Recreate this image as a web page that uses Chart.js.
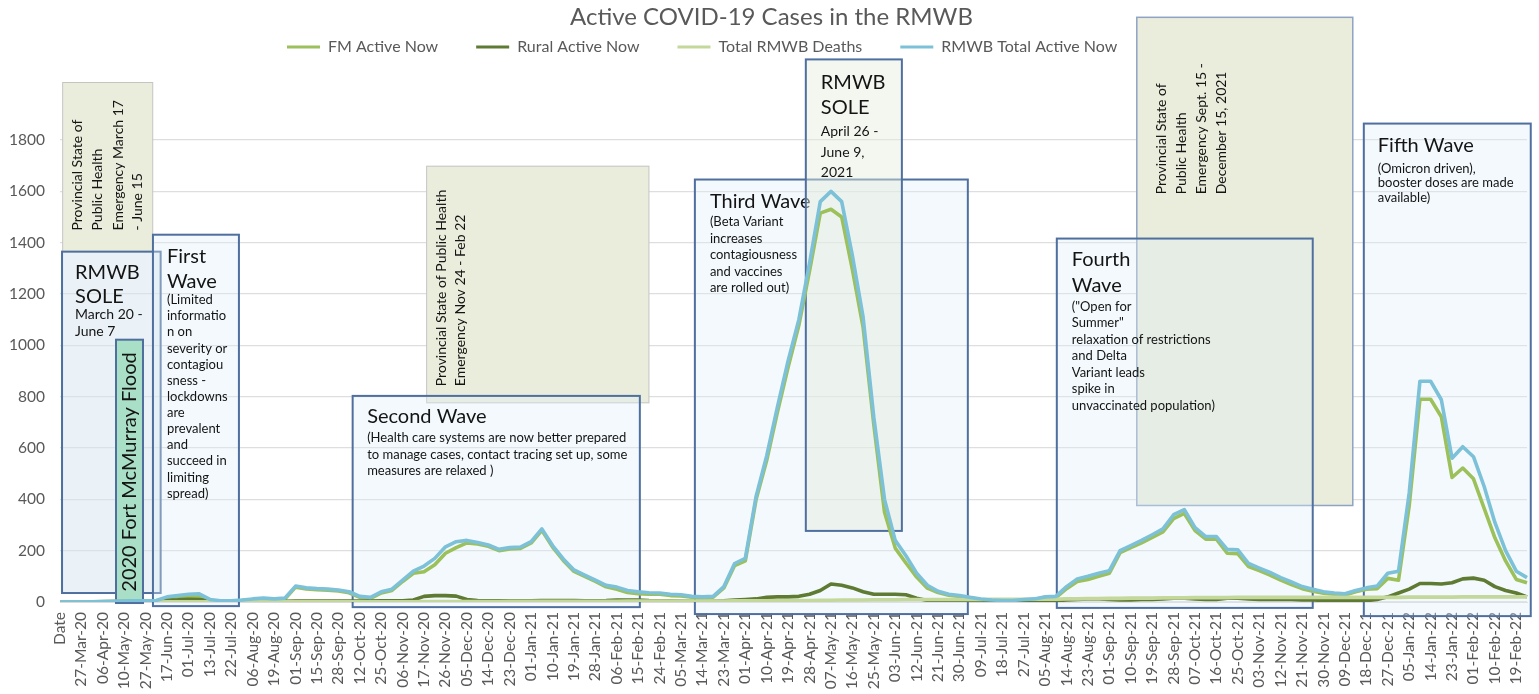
<!DOCTYPE html>
<html lang="en">
<head>
<meta charset="UTF-8" />
<title>Active COVID-19 Cases in the RMWB</title>
<script src="https://cdn.jsdelivr.net/npm/chart.js"></script>
<style>
  html, body { margin: 0; padding: 0; background: #fff; }
  #wrap { width: 1539px; height: 694px; }
</style>
</head>
<body>
<div id="wrap"><canvas id="casesChart" width="1539" height="694"></canvas></div>
<script>
  // tick labels shown on the date axis (one every second row of data)
  const tickDates = ['Date', '27-Mar-20', '06-Apr-20', '10-May-20', '27-May-20', '17-Jun-20', '01-Jul-20',
    '13-Jul-20', '22-Jul-20', '06-Aug-20', '19-Aug-20', '01-Sep-20', '15-Sep-20', '28-Sep-20', '12-Oct-20',
    '25-Oct-20', '06-Nov-20', '17-Nov-20', '26-Nov-20', '05-Dec-20', '14-Dec-20', '23-Dec-20', '01-Jan-21',
    '10-Jan-21', '19-Jan-21', '28-Jan-21', '06-Feb-21', '15-Feb-21', '24-Feb-21', '05-Mar-21', '14-Mar-21',
    '23-Mar-21', '01-Apr-21', '10-Apr-21', '19-Apr-21', '28-Apr-21', '07-May-21', '16-May-21', '25-May-21',
    '03-Jun-21', '12-Jun-21', '21-Jun-21', '30-Jun-21', '09-Jul-21', '18-Jul-21', '27-Jul-21', '05-Aug-21',
    '14-Aug-21', '23-Aug-21', '01-Sep-21', '10-Sep-21', '19-Sep-21', '28-Sep-21', '07-Oct-21', '16-Oct-21',
    '25-Oct-21', '03-Nov-21', '12-Nov-21', '21-Nov-21', '30-Nov-21', '09-Dec-21', '18-Dec-21', '27-Dec-21',
    '05-Jan-22', '14-Jan-22', '23-Jan-22', '01-Feb-22', '10-Feb-22', '19-Feb-22'];

  const fmActive = [
    0, 0, 0, 1, 2, 3, 3, 4, 4, 5,
    12, 16, 19, 22, 6, 3, 3, 6, 9, 12,
    9, 12, 58, 51, 48, 46, 43, 36, 18, 14,
    35, 45, 80, 112, 118, 145, 190, 212, 230, 226,
    217, 200, 207, 209, 230, 279, 214, 162, 119, 100,
    80, 59, 50, 37, 32, 30, 30, 25, 24, 19,
    17, 19, 55, 142, 160, 398, 552, 740, 915, 1078,
    1290, 1515, 1530, 1500, 1295, 1070, 690, 350, 210, 152,
    97, 54, 37, 26, 22, 15, 9, 6, 4, 4,
    7, 9, 16, 17, 52, 80, 88, 100, 112, 192,
    212, 230, 252, 273, 325, 345, 278, 245, 245, 190,
    188, 138, 122, 105, 85, 68, 52, 42, 34, 30,
    27, 40, 50, 52, 92, 85, 375, 790, 790, 722,
    485, 522, 480, 365, 250, 160, 88, 75];

  const ruralActive = [
    0, 0, 0, 0, 0, 0, 1, 1, 1, 1,
    8, 9, 11, 10, 4, 2, 2, 2, 3, 3,
    3, 3, 4, 4, 4, 4, 4, 4, 4, 4,
    5, 5, 5, 8, 22, 25, 25, 23, 10, 6,
    5, 5, 5, 5, 5, 6, 6, 6, 6, 5,
    5, 6, 8, 8, 8, 6, 5, 5, 4, 3,
    3, 3, 5, 8, 10, 12, 18, 20, 20, 22,
    30, 45, 70, 65, 55, 40, 30, 30, 30, 28,
    15, 6, 5, 4, 3, 3, 3, 2, 2, 2,
    3, 3, 4, 5, 8, 10, 12, 12, 10, 8,
    8, 10, 10, 12, 15, 15, 12, 10, 10, 15,
    15, 12, 10, 10, 10, 10, 8, 8, 6, 5,
    5, 5, 5, 10, 20, 35, 50, 72, 72, 70,
    75, 90, 93, 85, 60, 45, 35, 20];

  const totalDeaths = [
    0, 0, 0, 0, 0, 0, 0, 0, 0, 0,
    1, 1, 1, 1, 1, 1, 1, 1, 1, 1,
    1, 1, 1, 1, 1, 1, 1, 1, 1, 1,
    1, 1, 1, 1, 2, 2, 2, 2, 2, 2,
    2, 2, 3, 3, 3, 3, 3, 3, 3, 3,
    3, 3, 3, 4, 4, 4, 4, 4, 4, 4,
    4, 4, 4, 5, 5, 5, 5, 6, 6, 6,
    6, 7, 7, 8, 8, 8, 9, 9, 9, 10,
    10, 10, 10, 10, 10, 10, 10, 11, 11, 11,
    11, 11, 11, 11, 12, 12, 13, 13, 14, 14,
    15, 15, 15, 16, 16, 16, 17, 17, 17, 17,
    18, 18, 18, 18, 18, 18, 18, 18, 18, 18,
    18, 18, 18, 18, 18, 18, 19, 19, 19, 19,
    19, 20, 20, 20, 20, 20, 20, 20];

  const totalActive = [
    0, 0, 0, 1, 2, 3, 4, 5, 5, 6,
    20, 25, 30, 32, 10, 5, 5, 8, 12, 15,
    12, 15, 62, 55, 52, 50, 47, 40, 22, 18,
    40, 50, 85, 120, 140, 170, 215, 235, 240, 232,
    222, 205, 212, 214, 235, 285, 220, 168, 125, 105,
    85, 65, 58, 45, 40, 36, 35, 30, 28, 22,
    20, 22, 60, 150, 170, 410, 570, 760, 940, 1100,
    1320, 1560, 1600, 1560, 1350, 1110, 720, 400, 240, 180,
    112, 65, 42, 30, 25, 18, 12, 8, 6, 6,
    10, 12, 20, 22, 60, 90, 100, 112, 122, 200,
    220, 240, 262, 285, 340, 360, 290, 255, 255, 205,
    203, 150, 132, 115, 95, 78, 60, 50, 40, 35,
    32, 45, 55, 62, 112, 120, 425, 860, 860, 788,
    560, 605, 566, 450, 310, 200, 120, 95];

  const yTicks = [0, 200, 400, 600, 800, 1000, 1200, 1400, 1600, 1800];

  // every even row carries a tick label, odd rows stay blank
  const labels = totalActive.map((_, i) => (i % 2 === 0 ? (tickDates[i / 2] || '') : ''));

  const BLUE = '#4f6f9f';
  const TXT = '#141414';

  // text boxes laid over the chart; from/to are row positions, top/bottom are axis values
  const notes = [
    { from: 0.25, to: 8.66, top: 2024, bottom: 1365, fill: '#eaeddc', stroke: '#c4c4c4', lw: 1,
      vertical: true, size: 14, dx: [14.5, 35, 55.5, 74.5], dy: 148,
      text: ['Provincial State of', 'Public Health', 'Emergency March 17', '- June 15'] },
    { from: 0.19, to: 9.4, top: 1365, bottom: 35, fill: 'rgba(213,229,242,0.5)', stroke: BLUE, lw: 2,
      dx: 13, lines: [['RMWB', 20, 21], ['SOLE', 20, 45], ['March 20 -', 14, 63], ['June 7', 14, 80]] },
    { from: 5.23, to: 7.75, top: 1022, bottom: -4, fill: '#a9dfc6', stroke: BLUE, lw: 2,
      vertical: true, size: 20, dx: [13.5], dy: 252, text: ['2020 Fort McMurray Flood'] },
    { from: 8.68, to: 16.71, top: 1431, bottom: -16, fill: 'rgba(222,238,245,0.35)', stroke: BLUE, lw: 2,
      dx: 14, lines: [['First', 20, 22], ['Wave', 20, 47], ['(Limited', 13, 65], ['informatio', 13, 81],
        ['n on', 13, 97], ['severity or', 13, 114], ['contagiou', 13, 130], ['sness -', 13, 146],
        ['lockdowns', 13, 162], ['are', 13, 178], ['prevalent', 13, 194], ['and', 13, 210],
        ['succeed in', 13, 226], ['limiting', 13, 243], ['spread)', 13, 259]] },
    { from: 34.24, to: 55.0, top: 1698, bottom: 776, fill: '#eaeddc', stroke: '#c4c4c4', lw: 1,
      vertical: true, size: 14, dx: [15.3, 34.3], dy: 220,
      text: ['Provincial State of Public Health', 'Emergency Nov 24 - Feb 22'] },
    { from: 27.33, to: 54.15, top: 803, bottom: -20, fill: 'rgba(222,238,245,0.35)', stroke: BLUE, lw: 2,
      dx: 14.5, lines: [['Second Wave', 20, 21], ['(Health care systems are now better prepared', 13, 42],
        ['to manage cases, contact tracing set up, some', 13, 59], ['measures are relaxed )', 13, 75]] },
    { from: 59.29, to: 84.78, top: 1646, bottom: -47, fill: 'rgba(222,238,245,0.35)', stroke: BLUE, lw: 2,
      dx: 15, lines: [['Third Wave', 20, 22], ['(Beta Variant', 13, 42.5], ['increases', 13, 59],
        ['contagiousness', 13, 75.5], ['and vaccines', 13, 92], ['are rolled out)', 13, 108.5]] },
    { from: 69.65, to: 78.62, top: 2114, bottom: 277, fill: 'rgba(228,238,222,0.45)', stroke: BLUE, lw: 2,
      dx: 15, lines: [['RMWB', 20, 23], ['SOLE', 20, 48], ['April 26 -', 14, 72], ['June 9,', 14, 93],
        ['2021', 14, 113]] },
    { from: 100.56, to: 120.73, top: 2278, bottom: 376, fill: '#eaeddc', stroke: '#8fa3c5', lw: 1.5,
      vertical: true, size: 14, dx: [25, 45, 65, 85], dy: 177,
      text: ['Provincial State of', 'Public Health', 'Emergency Sept. 15 -', 'December 15, 2021'] },
    { from: 93.09, to: 116.99, top: 1416, bottom: -23, fill: 'rgba(222,238,245,0.35)', stroke: BLUE, lw: 2,
      dx: 15, lines: [['Fourth', 20, 21], ['Wave', 20, 47], ['("Open for', 13, 68], ['Summer"', 13, 84.5],
        ['relaxation of restrictions', 13, 101], ['and Delta', 13, 117.5], ['Variant leads', 13, 134],
        ['spike in', 13, 150.5], ['unvaccinated population)', 13, 167]] },
    { from: 121.76, to: 137.35, top: 1864, bottom: -55, fill: 'rgba(222,238,245,0.35)', stroke: BLUE, lw: 2,
      dx: 14, lines: [['Fifth Wave', 20, 22], ['(Omicron driven),', 13, 45], ['booster doses are made', 13, 59.5],
        ['available)', 13, 74]] }
  ];

  const noteBoxes = {
    id: 'noteBoxes',
    beforeDatasetsDraw(chart) {
      const { ctx, scales: { x, y } } = chart;
      ctx.save();
      notes.forEach(n => {
        const l = x.getPixelForValue(n.from), r = x.getPixelForValue(n.to);
        const t = y.getPixelForValue(n.top), b = y.getPixelForValue(n.bottom);
        ctx.fillStyle = n.fill;
        ctx.fillRect(l, t, r - l, b - t);
        ctx.strokeStyle = n.stroke;
        ctx.lineWidth = n.lw;
        ctx.strokeRect(l, t, r - l, b - t);
        ctx.fillStyle = TXT;
        ctx.textBaseline = 'middle';
        ctx.textAlign = 'left';
        if (n.vertical) {
          ctx.font = n.size + 'px Lato';
          n.text.forEach((s, i) => {
            ctx.save();
            ctx.translate(l + n.dx[i], t + n.dy);
            ctx.rotate(-Math.PI / 2);
            ctx.fillText(s, 0, 0);
            ctx.restore();
          });
        } else {
          n.lines.forEach(([s, size, dy]) => {
            ctx.font = size + 'px Lato';
            ctx.fillText(s, l + n.dx, t + dy);
          });
        }
      });
      ctx.restore();
    }
  };

  // keep the legend row where the original has it and leave the gap above the plot
  const legendPlace = {
    id: 'legendPlace',
    beforeInit(chart) {
      const fit = chart.legend.fit;
      chart.legend.fit = function () {
        fit.call(this);
        this.height = 108.2;
      };
    },
    afterLayout(chart) {
      chart.legend.left = 249;
      chart.legend.top = 1;
      chart.titleBlock.left += 8;
      chart.titleBlock.right += 8;
    }
  };

  const lineSet = (label, data, color) => ({
    label: label,
    data: data,
    borderColor: color,
    backgroundColor: color,
    borderWidth: 3.6,
    pointRadius: 0,
    tension: 0,
    fill: false,
    borderJoinStyle: 'round'
  });

  const ctx = document.getElementById('casesChart').getContext('2d');
  new Chart(ctx, {
    type: 'line',
    data: {
      labels: labels,
      datasets: [
        lineSet('RMWB Total Active Now', totalActive, '#7cc1d8'),
        lineSet('Total RMWB Deaths', totalDeaths, '#c4d89c'),
        lineSet('Rural Active Now', ruralActive, '#5f7a32'),
        lineSet('FM Active Now', fmActive, '#9cc05a')
      ]
    },
    options: {
      responsive: false,
      animation: false,
      devicePixelRatio: 1,
      layout: { padding: { left: 0, right: 12, top: 0, bottom: 0 } },
      plugins: {
        title: {
          display: true,
          text: 'Active COVID-19 Cases in the RMWB',
          color: '#595959',
          font: { family: 'Lato', size: 24, weight: 'normal' },
          padding: { top: 3, bottom: 0 }
        },
        legend: {
          align: 'start',
          reverse: true,
          labels: {
            color: '#595959',
            font: { family: 'Lato', size: 16 },
            boxWidth: 33,
            boxHeight: 3,
            padding: 38,
            generateLabels(chart) {
              return Chart.defaults.plugins.legend.labels.generateLabels(chart)
                .map(item => ({ ...item, fillStyle: item.strokeStyle, lineWidth: 0 }));
            }
          }
        },
        tooltip: { enabled: false }
      },
      scales: {
        x: {
          grid: { display: false, drawTicks: false },
          border: { color: '#d9d9d9' },
          ticks: {
            autoSkip: false,
            maxRotation: 90,
            minRotation: 90,
            padding: 10,
            color: '#595959',
            font: { family: 'Lato', size: 15.5 },
            callback: function (value) { return this.getLabelForValue(value); }
          },
          afterFit(scale) {
            scale.height = 92;
            scale.paddingLeft = 0;
            scale.paddingRight = 0;
          }
        },
        y: {
          min: 0,
          max: 1800,
          afterBuildTicks(scale) { scale.ticks = yTicks.map(v => ({ value: v })); },
          grid: { color: '#dedede', lineWidth: 1.3, drawTicks: false },
          border: { display: false },
          ticks: {
            padding: 15,
            color: '#595959',
            font: { family: 'Lato', size: 15.5 },
            callback: v => String(v)
          },
          afterFit(scale) { scale.width = 60; }
        }
      }
    },
    plugins: [noteBoxes, legendPlace]
  });
</script>
</body>
</html>
